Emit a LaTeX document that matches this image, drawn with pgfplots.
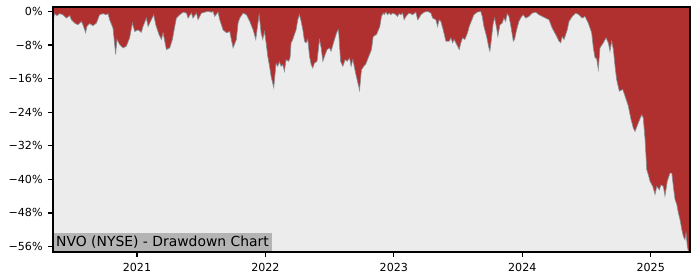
\documentclass[border=0pt]{standalone}
\usepackage{fontspec}
\setmainfont{DejaVu Sans}
\usepackage{pgfplots}
\pgfplotsset{compat=1.18}
\usepackage{pgfplotstable}
\definecolor{ddred}{RGB}{176,48,48}
\definecolor{bggray}{RGB}{236,236,236}
\definecolor{edgegray}{RGB}{135,140,146}
\definecolor{boxgray}{RGB}{180,180,180}

\pgfplotstableread{
year dd
2020.346 -2.4
2020.359 -0.55
2020.377 -1.0
2020.398 -0.55
2020.423 -0.8
2020.450 -1.6
2020.476 -1.0
2020.489 -2.0
2020.515 -2.8
2020.540 -3.2
2020.567 -2.4
2020.579 -3.2
2020.600 -5.1
2020.610 -3.6
2020.631 -2.9
2020.657 -3.4
2020.684 -2.8
2020.709 -0.8
2020.735 -0.55
2020.762 -0.8
2020.774 -0.55
2020.787 -2.0
2020.813 -4.0
2020.834 -10.3
2020.844 -6.7
2020.865 -7.9
2020.891 -8.7
2020.917 -8.3
2020.943 -6.3
2020.964 -2.8
2020.982 -4.8
2021.008 -4.4
2021.034 -5.0
2021.047 -3.6
2021.073 -1.6
2021.086 -3.6
2021.112 -2.0
2021.130 -0.8
2021.146 -3.2
2021.171 -5.5
2021.190 -6.7
2021.203 -5.1
2021.229 -9.1
2021.255 -8.7
2021.276 -6.7
2021.294 -3.6
2021.307 -1.6
2021.333 -0.8
2021.358 -0.2
2021.385 -0.4
2021.397 -1.6
2021.424 -0.4
2021.436 -1.6
2021.463 -0.4
2021.475 -2.0
2021.502 -0.4
2021.527 -0.2
2021.553 0
2021.580 -0.2
2021.592 0
2021.605 -1.2
2021.631 -0.2
2021.644 -2.0
2021.670 -4.4
2021.697 -5.1
2021.722 -4.8
2021.748 -8.7
2021.774 -6.7
2021.787 -2.8
2021.800 -1.6
2021.826 -0.4
2021.852 -0.8
2021.878 -2.4
2021.904 -4.4
2021.925 -6.7
2021.935 -4.4
2021.951 -0.8
2021.966 -5.1
2021.979 -6.7
2021.993 -4.8
2022.005 -7.5
2022.018 -10.7
2022.032 -13.1
2022.044 -15.5
2022.065 -18.2
2022.083 -12.4
2022.096 -13.1
2022.109 -12.0
2022.122 -13.1
2022.135 -12.7
2022.148 -14.3
2022.161 -11.5
2022.180 -11.9
2022.192 -11.1
2022.200 -7.5
2022.213 -6.7
2022.226 -5.5
2022.239 -4.4
2022.252 -2.0
2022.265 -0.8
2022.278 -2.4
2022.291 -4.4
2022.304 -7.1
2022.317 -7.5
2022.330 -6.7
2022.343 -10.7
2022.356 -12.7
2022.369 -13.5
2022.382 -12.3
2022.402 -11.9
2022.421 -6.7
2022.434 -8.7
2022.447 -11.9
2022.460 -10.7
2022.480 -9.1
2022.499 -8.7
2022.511 -9.5
2022.538 -6.7
2022.558 -4.8
2022.569 -4.4
2022.585 -11.9
2022.603 -13.1
2022.621 -11.5
2022.636 -11.9
2022.655 -11.1
2022.667 -13.1
2022.681 -11.5
2022.699 -14.3
2022.714 -16.3
2022.733 -18.8
2022.748 -13.9
2022.766 -13.1
2022.782 -12.5
2022.800 -11.1
2022.826 -9.1
2022.839 -6.0
2022.865 -5.5
2022.891 -3.6
2022.904 -1.2
2022.917 -0.4
2022.924 -0.8
2022.938 -0.2
2022.951 -0.8
2022.963 -0.4
2022.977 -0.8
2022.990 -0.4
2023.002 -0.55
2023.016 -0.8
2023.029 -1.2
2023.041 -0.55
2023.055 -0.8
2023.068 -0.4
2023.080 -2.0
2023.094 -1.2
2023.119 -0.4
2023.146 -0.8
2023.171 -0.2
2023.185 -2.0
2023.197 -1.6
2023.210 -0.8
2023.236 -0.2
2023.263 0
2023.288 -0.4
2023.302 -1.6
2023.327 -2.0
2023.340 -3.6
2023.353 -2.0
2023.366 -2.4
2023.384 -4.4
2023.405 -7.1
2023.431 -7.1
2023.444 -6.3
2023.457 -7.5
2023.470 -6.7
2023.483 -7.5
2023.509 -9.1
2023.522 -7.5
2023.535 -6.3
2023.553 -6.7
2023.574 -5.1
2023.587 -3.6
2023.613 -1.6
2023.623 -0.8
2023.649 -0.2
2023.676 0
2023.688 -1.2
2023.701 -3.6
2023.722 -6.0
2023.740 -8.7
2023.748 -9.5
2023.758 -7.1
2023.774 -2.8
2023.785 -1.6
2023.800 -4.0
2023.810 -6.0
2023.826 -3.2
2023.844 -2.8
2023.857 -1.6
2023.870 -2.4
2023.883 -0.55
2023.896 -1.2
2023.909 -3.2
2023.930 -7.1
2023.940 -6.7
2023.956 -4.4
2023.974 -2.4
2023.987 -1.6
2024.007 -0.8
2024.026 -1.6
2024.052 -1.2
2024.078 -0.4
2024.104 -0.2
2024.130 -0.8
2024.155 -1.2
2024.182 -1.6
2024.208 -2.0
2024.233 -4.0
2024.260 -5.5
2024.286 -7.1
2024.299 -7.5
2024.311 -6.0
2024.325 -6.7
2024.350 -4.4
2024.364 -2.4
2024.389 -1.2
2024.416 -0.4
2024.441 -0.8
2024.467 -1.6
2024.488 -1.2
2024.514 -2.8
2024.540 -5.1
2024.553 -8.7
2024.566 -11.0
2024.579 -11.3
2024.592 -13.9
2024.605 -8.7
2024.631 -7.5
2024.652 -6.3
2024.670 -7.5
2024.683 -9.5
2024.696 -7.1
2024.709 -9.1
2024.722 -13.1
2024.735 -16.3
2024.755 -19.0
2024.782 -18.6
2024.800 -20.2
2024.826 -22.6
2024.844 -25.4
2024.864 -27.8
2024.878 -28.6
2024.903 -26.6
2024.930 -24.6
2024.942 -25.4
2024.956 -30.6
2024.969 -37.7
2024.981 -38.9
2024.995 -40.5
2025.016 -41.7
2025.034 -43.6
2025.047 -41.7
2025.067 -42.5
2025.080 -41.3
2025.098 -41.7
2025.111 -44.0
2025.129 -40.5
2025.150 -38.5
2025.164 -38.5
2025.176 -41.7
2025.189 -44.8
2025.203 -46.0
2025.215 -48.0
2025.228 -49.6
2025.242 -52.0
2025.254 -53.6
2025.267 -54.4
2025.275 -52.8
2025.285 -56.0
2025.293 -57.1
}\ddtable

\begin{document}
\begin{tikzpicture}
\useasboundingbox (0,0) rectangle (700bp,280bp);
\begin{axis}[
  at={(53bp,28bp)}, anchor=south west,
  width=637bp, height=245bp, scale only axis,
  xmin=2020.346, xmax=2025.306,
  ymin=-57.3, ymax=1.05,
  axis background/.style={fill=ddred},
  axis line style={line width=1.1bp, black},
  axis on top,
  xtick={2021,2022,2023,2024,2025},
  xticklabels={2021,2022,2023,2024,2025},
  ytick={-56,-48,-40,-32,-24,-16,-8,0},
  yticklabels={−56\%,−48\%,−40\%,−32\%,−24\%,−16\%,−8\%,0\%},
  tick align=outside,
  tick pos=left,
  major tick length=4.9bp,
  every tick/.style={black, line width=1.1bp},
  ticklabel style={font=\fontsize{11.1bp}{13bp}\selectfont, text=black},
  yticklabel style={xshift=-2bp},
  xticklabel style={yshift=-2.5bp},
  scaled ticks=false,
]
\addplot[fill=bggray, draw=none] table {\ddtable}
  -- (axis cs:2025.293,-57.3) -- (axis cs:2020.346,-57.3) -- cycle;
\addplot[edgegray, line width=0.6bp] table {\ddtable};
\node[anchor=south west, fill=boxgray, inner xsep=3bp, inner ysep=3.2bp,
      font=\fontsize{13.9bp}{16bp}\selectfont, text=black]
  at (rel axis cs:0,0) {NVO (NYSE) - Drawdown Chart};
\end{axis}
\end{tikzpicture}
\end{document}
